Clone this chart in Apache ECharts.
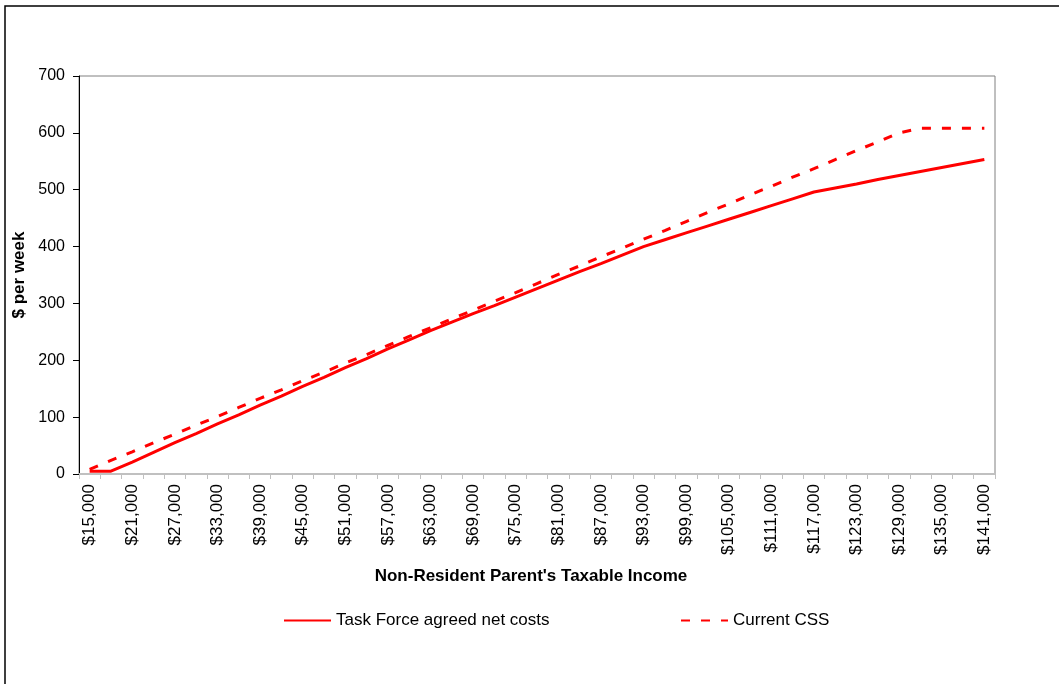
<!DOCTYPE html>
<html>
<head>
<meta charset="utf-8">
<script src="https://cdn.jsdelivr.net/npm/echarts@6/dist/echarts.min.js"></script>
<style>
html,body{margin:0;padding:0;background:#fff;}
#chart{width:1059px;height:684px;}
</style>
</head>
<body>
<div id="chart"></div>
<script>
const categories = ['$15,000','$18,000','$21,000','$24,000','$27,000','$30,000','$33,000','$36,000','$39,000','$42,000',
  '$45,000','$48,000','$51,000','$54,000','$57,000','$60,000','$63,000','$66,000','$69,000','$72,000',
  '$75,000','$78,000','$81,000','$84,000','$87,000','$90,000','$93,000','$96,000','$99,000','$102,000',
  '$105,000','$108,000','$111,000','$114,000','$117,000','$120,000','$123,000','$126,000','$129,000','$132,000',
  '$135,000','$138,000','$141,000'];
const taskForce = [5,5,21,38,55,71,88,104,121,137,
  154,170,187,203,220,236,252,267,282,296,
  311,326,341,356,370,385,400,412,424,436,
  448,460,472,484,496,503,510,518,525,532,
  539,546,553];
const currentCSS = [8,24,39,55,70,86,101,117,133,148,
  164,179,195,210,226,242,257,273,288,304,
  319,335,351,366,382,397,413,428,444,460,
  475,491,506,522,537,553,569,584,600,608,
  608,608,608];
const seriesNames = ['Task Force agreed net costs','Current CSS'];
const xTitle = "Non-Resident Parent's Taxable Income";
const yTitle = '$ per week';

const FONT = '"Liberation Sans", Arial, sans-serif';
const chart = echarts.init(document.getElementById('chart'), null, {renderer:'canvas'});
const legendBase = {itemWidth:47, itemHeight:12, top:607,
  itemStyle:{opacity:0},
  textStyle:{fontSize:17, color:'#000', fontFamily:FONT}};
chart.setOption({
  animation:false,
  backgroundColor:'#fff',
  textStyle:{fontFamily:FONT},
  graphic:[
    {type:'rect', shape:{x:5, y:6, width:1100, height:720}, style:{fill:'none', stroke:'#000', lineWidth:1.5}, silent:true},
    {type:'text', x:531, y:576, style:{text:xTitle, fontFamily:FONT, fontSize:17, fontWeight:'bold', fill:'#000', align:'center', verticalAlign:'middle'}}
  ],
  grid:{left:79, right:64, top:76, bottom:210, outerBoundsMode:'none', containLabel:false,
    show:true, borderColor:'#808080', borderWidth:1, backgroundColor:'transparent'},
  legend:[
    Object.assign({data:[seriesNames[0]], left:278}, legendBase),
    Object.assign({data:[seriesNames[1]], left:675}, legendBase)
  ],
  xAxis:{
    type:'category', data:categories, boundaryGap:true,
    axisLine:{show:true, lineStyle:{color:'#c0c0c0', width:2}},
    axisTick:{show:true, interval:0, length:5, lineStyle:{color:'#c0c0c0', width:1}},
    axisLabel:{interval:1, rotate:90, fontSize:17, color:'#000', margin:10, fontFamily:FONT},
    splitLine:{show:false}
  },
  yAxis:{
    type:'value', min:0, max:700, interval:100,
    name:yTitle, nameLocation:'middle', nameGap:51, nameRotate:90,
    nameTextStyle:{fontSize:17, fontWeight:'bold', color:'#000', fontFamily:FONT},
    axisLine:{show:true, lineStyle:{color:'#000', width:1}},
    axisTick:{show:true, length:6, lineStyle:{color:'#000'}},
    axisLabel:{fontSize:16, color:'#000', margin:14, fontFamily:FONT},
    splitLine:{show:false}
  },
  series:[
    {name:seriesNames[0], type:'line', data:taskForce, symbol:'none', color:'#ff0000',
     lineStyle:{color:'#ff0000', width:3}},
    {name:seriesNames[1], type:'line', data:currentCSS, symbol:'none', color:'#ff0000',
     lineStyle:{color:'#ff0000', width:3, type:[9,11]}}
  ]
});
</script>
</body>
</html>
